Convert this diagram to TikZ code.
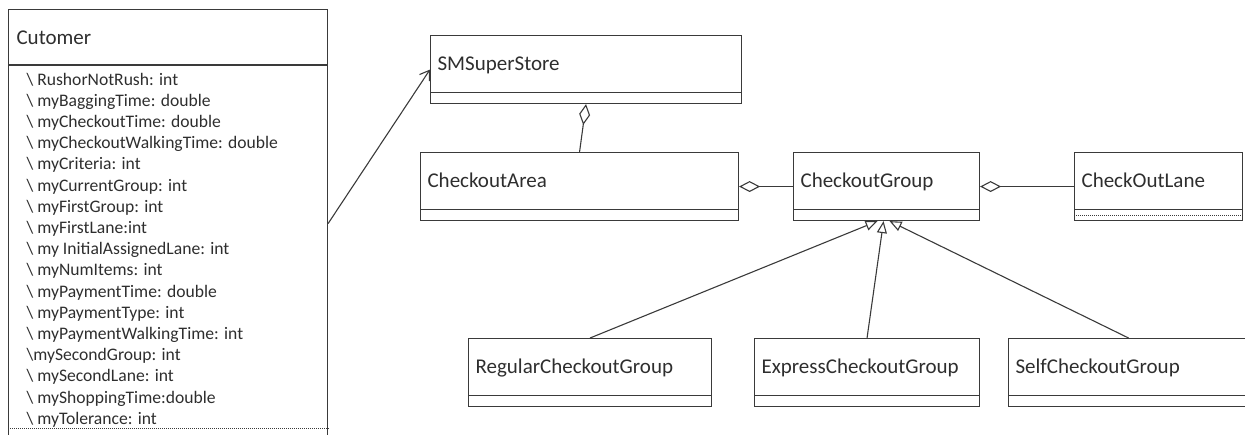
\documentclass[tikz,border=0pt]{standalone}
\usepackage{fontspec}
\setmainfont{Carlito}
\usepackage{tikz}
\usetikzlibrary{arrows.meta}
\definecolor{umlgray}{HTML}{3A3A3A}
\definecolor{umltext}{HTML}{2E2E2E}

\begin{document}
\begin{tikzpicture}[x=1pt, y=-1pt, line width=1.1pt, color=umlgray,
        cls/.style={draw, rectangle, anchor=north west, align=left, inner xsep=7pt, inner ysep=0pt,
            text width=#1, minimum height=68pt, text height=12pt, text depth=10pt,
            font=\fontsize{21}{25}\selectfont, text=umltext},
        attr/.style={anchor=base west, inner sep=0pt, font=\fontsize{17.6}{21}\selectfont, text=umltext},
        aggr/.style={{Diamond[open, length=21pt, width=11pt]}-},
        gen/.style={-{Triangle[open, length=12pt, width=10pt]}},
        assoc/.style={-{Straight Barb[length=9pt, width=12pt]}}]
        \useasboundingbox (0,0) rectangle (1245,434);
        \clip (0,0) rectangle (1245,434);

        % Customer class
        \node[draw, anchor=north west, minimum width=319pt, minimum height=428pt, inner sep=0pt] (cust) at (8,9) {};
        \node[anchor=base west, inner sep=0pt, font=\fontsize{21}{25}\selectfont, text=umltext] (cust-name) at (16,44) {Cutomer};
        \draw ([yshift=-56pt]cust.north west) -- ([yshift=-56pt]cust.north east);
        \draw[line width=0.8pt, dash pattern=on 1pt off 1pt] ([yshift=10pt]cust.south west) -- ([yshift=10pt]cust.south east);
        \foreach \a [count=\i from 0] in {%
            \textbackslash\ RushorNotRush: int,%
            \textbackslash\ myBaggingTime: double,%
            \textbackslash\ myCheckoutTime: double,%
            \textbackslash\ myCheckoutWalkingTime: double,%
            \textbackslash\ myCriteria: int,%
            \textbackslash\ myCurrentGroup: int,%
            \textbackslash\ myFirstGroup: int,%
            \textbackslash\ myFirstLane:int,%
            \textbackslash\ my InitialAssignedLane: int,%
            \textbackslash\ myNumItems: int,%
            \textbackslash\ myPaymentTime: double,%
            \textbackslash\ myPaymentType: int,%
            \textbackslash\ myPaymentWalkingTime: int,%
            \textbackslash mySecondGroup: int,%
            \textbackslash\ mySecondLane: int,%
            \textbackslash\ myShoppingTime:double,%
            \textbackslash\ myTolerance: int}
            \node[attr] (attr-\i) at (26, 85+21.2*\i) {\a};

        % Other classes
        \node[cls=297pt] (store) at (430,35) {SMSuperStore};
        \node[cls=304pt] (area) at (420,152) {CheckoutArea};
        \node[cls=172pt] (group) at (793,152) {CheckoutGroup};
        \node[cls=154pt] (lane) at (1074,152) {CheckOutLane};
        \node[cls=229pt] (regular) at (468,338) {RegularCheckoutGroup};
        \node[cls=211pt] (express) at (754,338) {ExpressCheckoutGroup};
        \node[cls=226pt] (self) at (1008,338) {SelfCheckoutGroup};

        % Compartment lines
        \foreach \c in {store,area,group,lane,regular,express,self}
            \draw ([yshift=12pt]\c.south west) -- ([yshift=12pt]\c.south east);
        \draw[line width=0.8pt, dash pattern=on 1pt off 1pt] ([yshift=6pt]lane.south west) -- ([yshift=6pt]lane.south east);

        % Association and aggregation
        \draw[assoc] (cust.east) -- (store.west);
        \draw[aggr] (store.south) -- (area.north);
        \draw[aggr] (area.east) -- (group.west);
        \draw[aggr] (group.east) -- (lane.west);

        % Generalization
        \draw[gen] (regular.north) -- ([xshift=-9pt]group.south);
        \draw[gen] (express.north) -- ([xshift=-3pt]group.south);
        \draw[gen] (self.north) -- ([xshift=3pt]group.south);
    \end{tikzpicture}
\end{document}
